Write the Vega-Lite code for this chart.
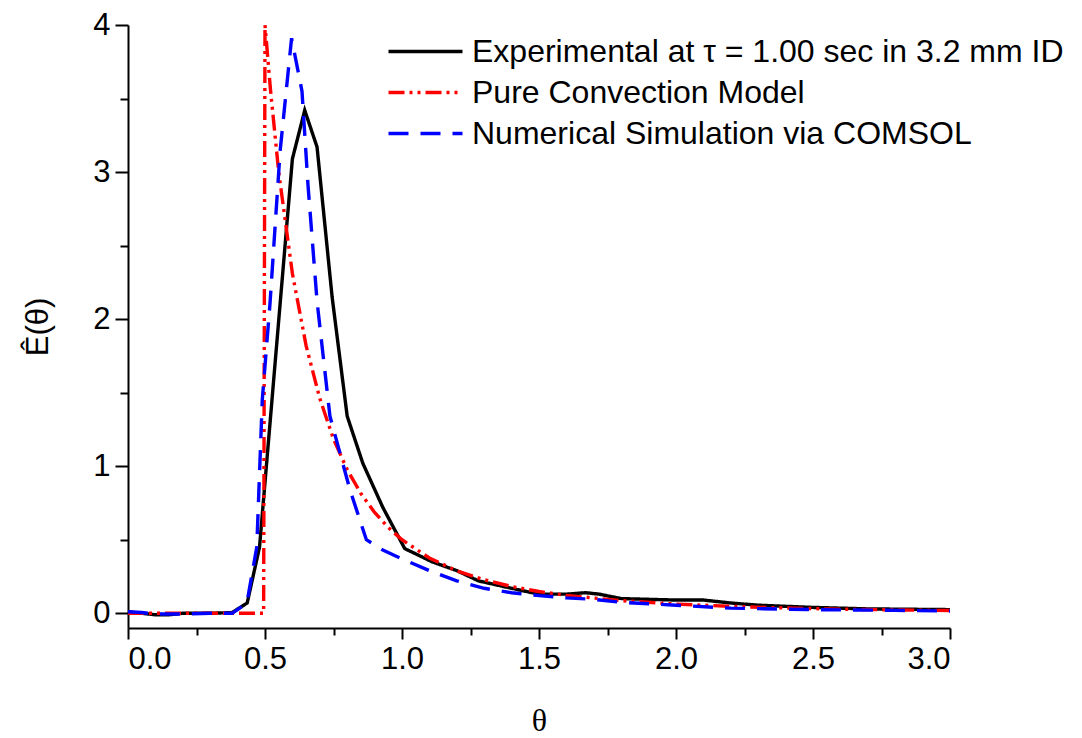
{
  "$schema": "https://vega.github.io/schema/vega-lite/v6.json",
  "width": 822,
  "height": 603,
  "autosize": {"type": "none"},
  "padding": {"left": 128, "top": 25, "right": 132, "bottom": 110},
  "background": "white",
  "view": {"stroke": null},
  "config": {
    "font": "Liberation Sans",
    "axis": {"grid": false, "domainColor": "black", "tickColor": "black", "labelColor": "black", "titleColor": "black", "domainWidth": 2, "tickWidth": 2}
  },
  "resolve": {"axis": {"x": "independent", "y": "independent"}},
  "data": {
    "values": [
      {"s": "Experimental at τ = 1.00 sec in 3.2 mm ID", "t": 0.0, "e": 0.01},
      {"s": "Experimental at τ = 1.00 sec in 3.2 mm ID", "t": 0.05, "e": 0.0},
      {"s": "Experimental at τ = 1.00 sec in 3.2 mm ID", "t": 0.1, "e": -0.01},
      {"s": "Experimental at τ = 1.00 sec in 3.2 mm ID", "t": 0.15, "e": -0.01},
      {"s": "Experimental at τ = 1.00 sec in 3.2 mm ID", "t": 0.2, "e": 0.0},
      {"s": "Experimental at τ = 1.00 sec in 3.2 mm ID", "t": 0.3, "e": 0.0},
      {"s": "Experimental at τ = 1.00 sec in 3.2 mm ID", "t": 0.38, "e": 0.005},
      {"s": "Experimental at τ = 1.00 sec in 3.2 mm ID", "t": 0.435, "e": 0.07},
      {"s": "Experimental at τ = 1.00 sec in 3.2 mm ID", "t": 0.48, "e": 0.45},
      {"s": "Experimental at τ = 1.00 sec in 3.2 mm ID", "t": 0.6, "e": 3.09},
      {"s": "Experimental at τ = 1.00 sec in 3.2 mm ID", "t": 0.645, "e": 3.42},
      {"s": "Experimental at τ = 1.00 sec in 3.2 mm ID", "t": 0.69, "e": 3.17},
      {"s": "Experimental at τ = 1.00 sec in 3.2 mm ID", "t": 0.745, "e": 2.15},
      {"s": "Experimental at τ = 1.00 sec in 3.2 mm ID", "t": 0.8, "e": 1.34},
      {"s": "Experimental at τ = 1.00 sec in 3.2 mm ID", "t": 0.857, "e": 1.02},
      {"s": "Experimental at τ = 1.00 sec in 3.2 mm ID", "t": 0.93, "e": 0.72},
      {"s": "Experimental at τ = 1.00 sec in 3.2 mm ID", "t": 1.01, "e": 0.44},
      {"s": "Experimental at τ = 1.00 sec in 3.2 mm ID", "t": 1.11, "e": 0.35},
      {"s": "Experimental at τ = 1.00 sec in 3.2 mm ID", "t": 1.2, "e": 0.29},
      {"s": "Experimental at τ = 1.00 sec in 3.2 mm ID", "t": 1.28, "e": 0.22},
      {"s": "Experimental at τ = 1.00 sec in 3.2 mm ID", "t": 1.4, "e": 0.17},
      {"s": "Experimental at τ = 1.00 sec in 3.2 mm ID", "t": 1.5, "e": 0.13},
      {"s": "Experimental at τ = 1.00 sec in 3.2 mm ID", "t": 1.6, "e": 0.13},
      {"s": "Experimental at τ = 1.00 sec in 3.2 mm ID", "t": 1.67, "e": 0.14},
      {"s": "Experimental at τ = 1.00 sec in 3.2 mm ID", "t": 1.72, "e": 0.13},
      {"s": "Experimental at τ = 1.00 sec in 3.2 mm ID", "t": 1.8, "e": 0.1},
      {"s": "Experimental at τ = 1.00 sec in 3.2 mm ID", "t": 1.9, "e": 0.095},
      {"s": "Experimental at τ = 1.00 sec in 3.2 mm ID", "t": 2.0, "e": 0.09},
      {"s": "Experimental at τ = 1.00 sec in 3.2 mm ID", "t": 2.1, "e": 0.09},
      {"s": "Experimental at τ = 1.00 sec in 3.2 mm ID", "t": 2.2, "e": 0.07},
      {"s": "Experimental at τ = 1.00 sec in 3.2 mm ID", "t": 2.3, "e": 0.055},
      {"s": "Experimental at τ = 1.00 sec in 3.2 mm ID", "t": 2.5, "e": 0.04},
      {"s": "Experimental at τ = 1.00 sec in 3.2 mm ID", "t": 2.7, "e": 0.03},
      {"s": "Experimental at τ = 1.00 sec in 3.2 mm ID", "t": 3.0, "e": 0.025},
      {"s": "Pure Convection Model", "t": 0.0, "e": 0.0},
      {"s": "Pure Convection Model", "t": 0.495, "e": 0.0},
      {"s": "Pure Convection Model", "t": 0.5, "e": 4.0},
      {"s": "Pure Convection Model", "t": 0.52, "e": 3.56},
      {"s": "Pure Convection Model", "t": 0.55, "e": 3.0},
      {"s": "Pure Convection Model", "t": 0.6, "e": 2.31},
      {"s": "Pure Convection Model", "t": 0.65, "e": 1.82},
      {"s": "Pure Convection Model", "t": 0.7, "e": 1.46},
      {"s": "Pure Convection Model", "t": 0.75, "e": 1.185},
      {"s": "Pure Convection Model", "t": 0.8, "e": 0.977},
      {"s": "Pure Convection Model", "t": 0.85, "e": 0.814},
      {"s": "Pure Convection Model", "t": 0.9, "e": 0.686},
      {"s": "Pure Convection Model", "t": 0.95, "e": 0.583},
      {"s": "Pure Convection Model", "t": 1.0, "e": 0.5},
      {"s": "Pure Convection Model", "t": 1.1, "e": 0.376},
      {"s": "Pure Convection Model", "t": 1.2, "e": 0.289},
      {"s": "Pure Convection Model", "t": 1.3, "e": 0.228},
      {"s": "Pure Convection Model", "t": 1.4, "e": 0.182},
      {"s": "Pure Convection Model", "t": 1.5, "e": 0.148},
      {"s": "Pure Convection Model", "t": 1.6, "e": 0.122},
      {"s": "Pure Convection Model", "t": 1.8, "e": 0.086},
      {"s": "Pure Convection Model", "t": 2.0, "e": 0.0625},
      {"s": "Pure Convection Model", "t": 2.2, "e": 0.047},
      {"s": "Pure Convection Model", "t": 2.4, "e": 0.036},
      {"s": "Pure Convection Model", "t": 2.6, "e": 0.028},
      {"s": "Pure Convection Model", "t": 2.8, "e": 0.023},
      {"s": "Pure Convection Model", "t": 3.0, "e": 0.0185},
      {"s": "Numerical Simulation via COMSOL", "t": 0.0, "e": 0.01},
      {"s": "Numerical Simulation via COMSOL", "t": 0.05, "e": 0.005},
      {"s": "Numerical Simulation via COMSOL", "t": 0.1, "e": -0.005},
      {"s": "Numerical Simulation via COMSOL", "t": 0.2, "e": -0.005},
      {"s": "Numerical Simulation via COMSOL", "t": 0.3, "e": 0.0},
      {"s": "Numerical Simulation via COMSOL", "t": 0.38, "e": 0.0},
      {"s": "Numerical Simulation via COMSOL", "t": 0.434, "e": 0.07},
      {"s": "Numerical Simulation via COMSOL", "t": 0.47, "e": 0.45},
      {"s": "Numerical Simulation via COMSOL", "t": 0.49, "e": 1.45},
      {"s": "Numerical Simulation via COMSOL", "t": 0.518, "e": 2.1},
      {"s": "Numerical Simulation via COMSOL", "t": 0.555, "e": 3.14},
      {"s": "Numerical Simulation via COMSOL", "t": 0.597, "e": 3.91},
      {"s": "Numerical Simulation via COMSOL", "t": 0.635, "e": 3.55},
      {"s": "Numerical Simulation via COMSOL", "t": 0.657, "e": 2.91},
      {"s": "Numerical Simulation via COMSOL", "t": 0.69, "e": 2.12},
      {"s": "Numerical Simulation via COMSOL", "t": 0.737, "e": 1.34},
      {"s": "Numerical Simulation via COMSOL", "t": 0.81, "e": 0.84},
      {"s": "Numerical Simulation via COMSOL", "t": 0.87, "e": 0.5},
      {"s": "Numerical Simulation via COMSOL", "t": 0.93, "e": 0.43},
      {"s": "Numerical Simulation via COMSOL", "t": 1.0, "e": 0.37},
      {"s": "Numerical Simulation via COMSOL", "t": 1.1, "e": 0.29},
      {"s": "Numerical Simulation via COMSOL", "t": 1.2, "e": 0.22},
      {"s": "Numerical Simulation via COMSOL", "t": 1.3, "e": 0.17},
      {"s": "Numerical Simulation via COMSOL", "t": 1.4, "e": 0.14},
      {"s": "Numerical Simulation via COMSOL", "t": 1.5, "e": 0.12},
      {"s": "Numerical Simulation via COMSOL", "t": 1.6, "e": 0.105},
      {"s": "Numerical Simulation via COMSOL", "t": 1.7, "e": 0.095},
      {"s": "Numerical Simulation via COMSOL", "t": 1.8, "e": 0.075},
      {"s": "Numerical Simulation via COMSOL", "t": 1.9, "e": 0.065},
      {"s": "Numerical Simulation via COMSOL", "t": 2.0, "e": 0.055},
      {"s": "Numerical Simulation via COMSOL", "t": 2.2, "e": 0.035},
      {"s": "Numerical Simulation via COMSOL", "t": 2.5, "e": 0.025},
      {"s": "Numerical Simulation via COMSOL", "t": 2.8, "e": 0.02},
      {"s": "Numerical Simulation via COMSOL", "t": 3.0, "e": 0.015}
    ]
  },
  "layer": [
    {
      "mark": {"type": "line", "strokeWidth": 3.4, "strokeCap": "butt", "strokeJoin": "miter"},
      "encoding": {
        "x": {
          "field": "t", "type": "quantitative",
          "scale": {"domain": [0, 3], "nice": false, "zero": false},
          "axis": {"orient": "bottom", "values": [0, 0.5, 1, 1.5, 2, 2.5, 3], "format": ".1f", "labelFontSize": 31, "labelPadding": 5, "tickSize": 11, "title": "θ", "titleFont": "Liberation Serif", "titleFontSize": 32, "titleFontWeight": "normal", "titlePadding": 31}
        },
        "y": {
          "field": "e", "type": "quantitative",
          "scale": {"domain": [-0.1, 4], "nice": false, "zero": false},
          "axis": {"orient": "left", "values": [0, 1, 2, 3, 4], "format": "d", "labelFontSize": 31, "labelPadding": 5, "tickSize": 13, "title": "Ê(θ)", "titleFontSize": 31, "titleFontWeight": "normal", "titlePadding": 38}
        },
        "color": {
          "field": "s", "type": "nominal",
          "scale": {"domain": ["Experimental at τ = 1.00 sec in 3.2 mm ID", "Pure Convection Model", "Numerical Simulation via COMSOL"], "range": ["#000000", "#ff0000", "#0000ff"]},
          "legend": {"title": null, "orient": "none", "legendX": 277, "legendY": 6, "padding": 0, "symbolType": "M-2,0H2", "symbolSize": 1369, "symbolStrokeWidth": 3.4, "labelFontSize": 32, "labelFont": "Liberation Sans", "labelColor": "black", "labelOffset": 26, "rowPadding": 4, "labelLimit": 800}
        },
        "strokeDash": {
          "field": "s", "type": "nominal",
          "scale": {"domain": ["Experimental at τ = 1.00 sec in 3.2 mm ID", "Pure Convection Model", "Numerical Simulation via COMSOL"], "range": [[1, 0], [16, 5, 3, 5, 3, 5], [20, 12]]},
          "legend": {"title": null, "orient": "none", "legendX": 277, "legendY": 6, "padding": 0, "symbolType": "M-2,0H2", "symbolSize": 1369, "symbolStrokeWidth": 3.4, "labelFontSize": 32, "labelFont": "Liberation Sans", "labelColor": "black", "labelOffset": 26, "rowPadding": 4, "labelLimit": 800}
        }
      }
    },
    {
      "mark": {"type": "point", "opacity": 0},
      "encoding": {
        "x": {"field": "t", "type": "quantitative", "axis": {"orient": "bottom", "values": [0.25, 0.75, 1.25, 1.75, 2.25, 2.75], "labels": false, "domain": false, "tickSize": 7, "title": null}},
        "y": {"field": "e", "type": "quantitative", "axis": {"orient": "left", "values": [0.5, 1.5, 2.5, 3.5], "labels": false, "domain": false, "tickSize": 8, "title": null}}
      }
    }
  ]
}
